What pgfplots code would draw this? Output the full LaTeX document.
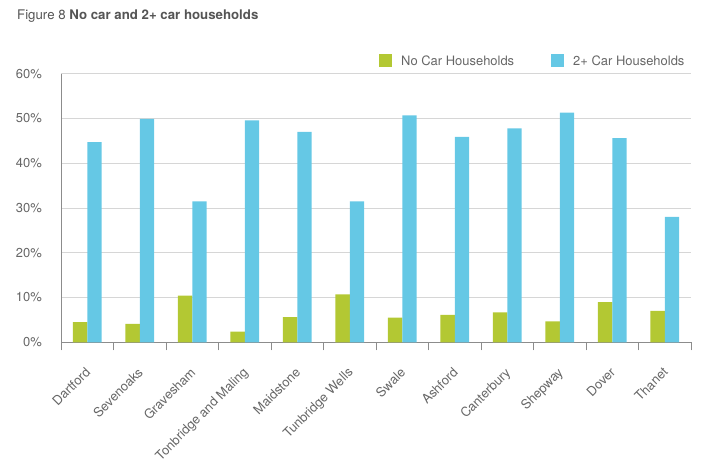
\documentclass[border=0pt]{standalone}
\usepackage{fontspec}
\setmainfont{TeX Gyre Heros}
\usepackage{pgfplots}
\pgfplotsset{compat=1.18}
\definecolor{nocar}{HTML}{B3C833}
\definecolor{twocar}{HTML}{65C8E5}
\definecolor{txt}{HTML}{666666}
\definecolor{titlec}{HTML}{555555}
\definecolor{gridc}{HTML}{D6D6D6}
\definecolor{axc}{HTML}{8C8C8C}
\begin{document}
\begin{tikzpicture}
\useasboundingbox (0,0) rectangle (720bp,472bp);
\node[anchor=base west, inner sep=0pt, text=titlec, font=\fontsize{13.3}{15}\selectfont] at (17bp,452bp) {Figure 8 \textbf{No car and 2+ car households}};
\begin{axis}[
  at={(61bp,129.7bp)}, anchor=south west,
  scale only axis, width=630bp, height=268.6bp,
  xmin=-0.5, xmax=11.5, ymin=0, ymax=60,
  ybar=0pt, bar width=14.3bp,
  axis x line*=bottom, axis y line*=left,
  axis line style={draw=axc, line width=0.8bp, -},
  xtick={0,...,11},
  xticklabels={Dartford,Sevenoaks,Gravesham,Tonbridge and Maling,Maidstone,Tunbridge Wells,Swale,Ashford,Canterbury,Shepway,Dover,Thanet},
  major tick length=0pt,
  extra x ticks={-0.5,0.5,...,11.5},
  extra x tick labels={},
  extra x tick style={major tick length=8bp, tick align=outside, tick style={draw=axc, line width=0.8bp}},
  ytick={0,10,...,60},
  yticklabel={\pgfmathprintnumber{\tick}\%},
  ymajorgrids, grid style={draw=gridc, line width=0.8bp},
  /pgf/number format/assume math mode=true,
  tick label style={font=\fontsize{13}{15}\selectfont, text=txt},
  yticklabel shift=19bp,
  yticklabel style={anchor=east, inner sep=0pt},
  xticklabel style={rotate=45, anchor=north east, inner sep=0pt, xshift=-19bp, yshift=-15bp},
  legend style={at={(0.5048,1.0476)}, anchor=west, draw=none, fill=none, inner sep=0pt,
    font=\fontsize{13}{15}\selectfont, text=txt, nodes={inner sep=0pt, anchor=west},
    /tikz/every odd column/.append style={column sep=9bp},
    /tikz/every even column/.append style={column sep=37bp}},
  legend columns=2,
  legend image code/.code={\fill[#1] (0bp,-6.5bp) rectangle (13bp,6.5bp);},
]
\addplot[fill=nocar, draw=none] coordinates {(0,4.5) (1,4.1) (2,10.4) (3,2.4) (4,5.6) (5,10.7) (6,5.5) (7,6.1) (8,6.7) (9,4.7) (10,9.0) (11,7.0)};
\addplot[fill=twocar, draw=none] coordinates {(0,44.7) (1,49.9) (2,31.5) (3,49.6) (4,47.0) (5,31.5) (6,50.7) (7,45.9) (8,47.8) (9,51.3) (10,45.6) (11,28.0)};
\legend{No Car Households, 2+ Car Households}
\end{axis}
\end{tikzpicture}
\end{document}
